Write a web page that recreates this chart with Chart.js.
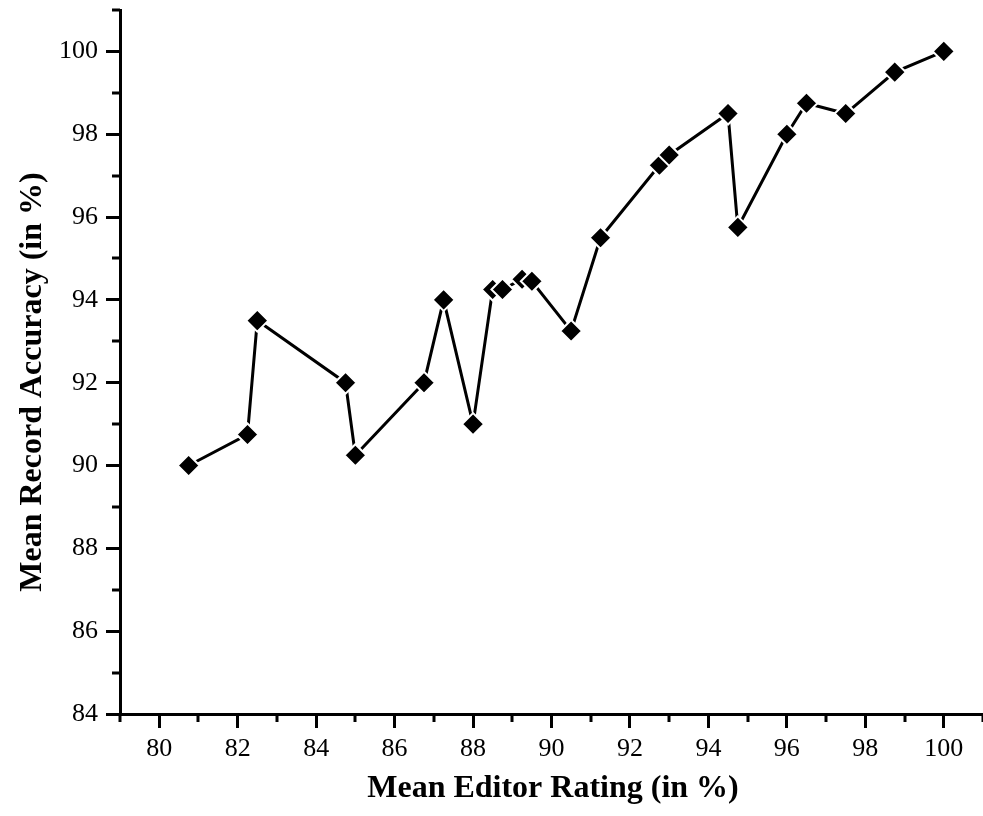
<!DOCTYPE html>
<html>
<head>
<meta charset="utf-8">
<script src="https://cdn.jsdelivr.net/npm/chart.js@4"></script>
<style>
  html, body { margin: 0; padding: 0; background: #fff; }
  #wrap { width: 983px; height: 816px; }
</style>
</head>
<body>
<div id="wrap"><canvas id="myChart"></canvas></div>
<script>
// data
var editorRating = [80.75, 82.25, 82.5, 84.75, 85.0, 86.75, 87.25, 88.0, 88.5, 88.75, 89.25, 89.5,
                    90.5, 91.25, 92.75, 93.0, 94.5, 94.75, 96.0, 96.5, 97.5, 98.75, 100.0];
var recordAccuracy = [90.0, 90.75, 93.5, 92.0, 90.25, 92.0, 94.0, 91.0, 94.25, 94.25, 94.5, 94.45,
                      93.25, 95.5, 97.25, 97.5, 98.5, 95.75, 98.0, 98.75, 98.5, 99.5, 100.0];

var xMin = 79, xMax = 101;
var yMin = 84, yMax = 101;
var xTitle = 'Mean Editor Rating (in %)';
var yTitle = 'Mean Record Accuracy (in %)';

var points = [];
for (var i = 0; i < editorRating.length; i++) {
  points.push({ x: editorRating[i], y: recordAccuracy[i] });
}

var serif = '"Liberation Serif", "Times New Roman", serif';

// labelled (major) ticks only on even values
function evenTicksOnly(scale) {
  scale.ticks = scale.ticks.filter(function (t) { return Math.round(t.value) % 2 === 0; });
}

// short minor ticks on odd values + axis titles
var minorTicksAndTitles = {
  id: 'minorTicksAndTitles',
  afterDraw: function (chart) {
    var ctx = chart.ctx;
    var xs = chart.scales.x, ys = chart.scales.y;
    var area = chart.chartArea;
    ctx.save();
    ctx.strokeStyle = '#000';
    ctx.lineWidth = 3;
    ctx.beginPath();
    for (var v = xMin; v <= xMax; v++) {
      if (v % 2 === 0) continue;
      var px = Math.round(xs.getPixelForValue(v));
      ctx.moveTo(px, area.bottom);
      ctx.lineTo(px, area.bottom + 8);
    }
    for (var w = yMin; w <= yMax; w++) {
      if (w % 2 === 0) continue;
      var py = Math.round(ys.getPixelForValue(w));
      ctx.moveTo(area.left, py);
      ctx.lineTo(area.left - 8, py);
    }
    ctx.stroke();

    ctx.fillStyle = '#000';
    ctx.font = 'bold 32px ' + serif;
    ctx.textAlign = 'center';
    ctx.textBaseline = 'alphabetic';
    ctx.fillText(xTitle, 553, 797);

    ctx.translate(41, 382);
    ctx.rotate(-Math.PI / 2);
    ctx.fillText(yTitle, 0, 0);
    ctx.restore();
  }
};

const ctx = document.getElementById('myChart');
const myChart = new Chart(ctx, {
  type: 'scatter',
  data: {
    datasets: [{
      data: points,
      showLine: true,
      borderColor: '#000',
      borderWidth: 3,
      pointStyle: 'rectRot',
      pointRadius: 11,
      pointHoverRadius: 11,
      pointBackgroundColor: '#000',
      pointBorderColor: '#fff',
      pointBorderWidth: 2,
      clip: false
    }]
  },
  options: {
    responsive: true,
    maintainAspectRatio: false,
    animation: false,
    layout: { autoPadding: false, padding: { top: 10, right: 0, left: 0, bottom: 0 } },
    plugins: {
      legend: { display: false },
      tooltip: { enabled: false }
    },
    scales: {
      x: {
        type: 'linear',
        min: xMin,
        max: xMax,
        afterBuildTicks: evenTicksOnly,
        afterFit: function (scale) {
          scale.height = 102;
          scale.paddingLeft = 0;
          scale.paddingRight = 0;
        },
        border: { display: true, color: '#000', width: 3 },
        grid: {
          drawOnChartArea: false,
          drawTicks: true,
          tickLength: 14,
          tickWidth: 3,
          tickColor: '#000'
        },
        ticks: {
          stepSize: 1,
          autoSkip: false,
          maxRotation: 0,
          padding: 6,
          color: '#000',
          font: { family: serif, size: 26 }
        }
      },
      y: {
        type: 'linear',
        min: yMin,
        max: yMax,
        afterBuildTicks: evenTicksOnly,
        afterFit: function (scale) {
          scale.width = 120;
          scale.paddingTop = 0;
          scale.paddingBottom = 0;
        },
        border: { display: true, color: '#000', width: 3 },
        grid: {
          drawOnChartArea: false,
          drawTicks: true,
          tickLength: 14,
          tickWidth: 3,
          tickColor: '#000'
        },
        ticks: {
          stepSize: 1,
          autoSkip: false,
          padding: 8,
          color: '#000',
          font: { family: serif, size: 26 }
        }
      }
    }
  },
  plugins: [minorTicksAndTitles]
});
</script>
</body>
</html>
